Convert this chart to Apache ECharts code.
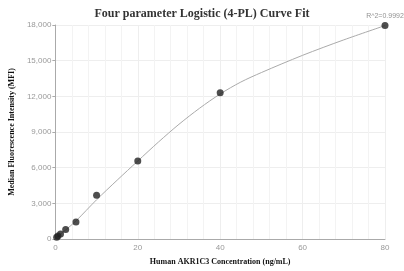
<!DOCTYPE html>
<html>
<head>
<meta charset="utf-8">
<script src="https://cdn.jsdelivr.net/npm/echarts@6/dist/echarts.min.js"></script>
<style>
  html, body { margin: 0; padding: 0; background: #fff; }
  #chart { width: 404px; height: 271px; }
</style>
</head>
<body>
<div id="chart"></div>
<script>
// 标准点
var concX = [0.3125, 0.625, 1.25, 2.5, 5, 10, 20, 40, 80];
var mfiY = [150, 260, 430, 790, 1420, 3680, 6560, 12300, 17950];

// 拟合曲线
var fitX = [0, 2.5, 5, 10, 15, 20, 25, 30, 35, 40, 45, 50, 60, 70, 80];
var fitY = [60, 760, 1520, 3300, 4950, 6560, 8150, 9650, 11000, 12200, 13200, 14000, 15450, 16750, 17950];

var r2Text = 'R^2=0.9992';

function pairs(xs, ys) {
  var out = [];
  for (var i = 0; i < xs.length; i++) out.push([xs[i], ys[i]]);
  return out;
}

var chart = echarts.init(document.getElementById('chart'));

var option = {
  animation: false,
  title: {
    text: 'Four parameter Logistic (4-PL) Curve Fit',
    left: 'center',
    top: 3,
    textStyle: {
      fontFamily: 'Liberation Serif',
      fontWeight: 'bold',
      fontSize: 12,
      color: '#333'
    }
  },
  grid: {
    left: 52,
    right: 19,
    top: 25,
    bottom: 30
  },
  xAxis: {
    type: 'value',
    min: 0,
    max: 80,
    interval: 20,
    name: 'Human AKR1C3 Concentration (ng/mL)',
    nameLocation: 'middle',
    nameGap: 19,
    nameTextStyle: {
      fontFamily: 'Liberation Serif',
      fontWeight: 'bold',
      fontSize: 8,
      color: '#111'
    },
    axisLine: { lineStyle: { color: '#aaa' } },
    axisTick: { show: false },
    axisLabel: { fontSize: 8, color: '#999', margin: 5 },
    splitLine: { show: true, lineStyle: { color: '#eee' } },
    minorTick: { show: false, splitNumber: 5 },
    minorSplitLine: { show: true, lineStyle: { color: '#f3f3f3' } }
  },
  yAxis: {
    type: 'value',
    min: 0,
    max: 18000,
    interval: 3000,
    name: 'Median Fluorescence Intensity (MFI)',
    nameLocation: 'middle',
    nameGap: 38,
    nameTextStyle: {
      fontFamily: 'Liberation Serif',
      fontWeight: 'bold',
      fontSize: 8,
      color: '#111'
    },
    axisLine: { show: true, lineStyle: { color: '#aaa' } },
    axisTick: { show: true, length: 3, lineStyle: { color: '#aaa' } },
    axisLabel: {
      fontSize: 8,
      color: '#999',
      margin: 4,
      formatter: function (v) { return v.toLocaleString('en-US'); }
    },
    splitLine: { show: true, lineStyle: { color: '#eee' } }
  },
  series: [{
    name: 'fit',
    type: 'line',
    smooth: 0.3,
    showSymbol: false,
    data: pairs(fitX, fitY),
    lineStyle: { color: '#aaa', width: 1 },
    z: 1
  }, {
    name: 'points',
    type: 'scatter',
    symbolSize: 7,
    data: pairs(concX, mfiY),
    itemStyle: { color: '#222' },
    z: 2,
    label: {
      show: true,
      position: 'top',
      distance: 3,
      fontSize: 7,
      color: '#777',
      formatter: function (p) {
        return p.dataIndex === concX.length - 1 ? r2Text : '';
      }
    }
  }]
};

chart.setOption(option);
</script>
</body>
</html>
